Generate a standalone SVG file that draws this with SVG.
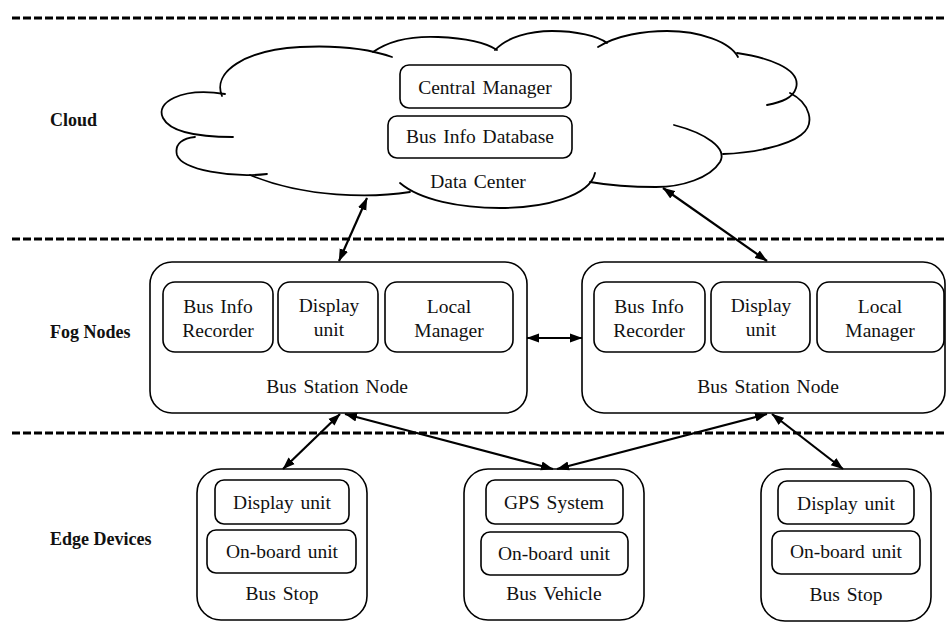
<svg xmlns="http://www.w3.org/2000/svg" width="947" height="635" viewBox="0 0 947 635">
<style>
.dash{stroke:#000;stroke-width:3;stroke-dasharray:8 3;fill:none}
.outer{fill:#fff;stroke:#000;stroke-width:1.6}
.inner{fill:#fff;stroke:#000;stroke-width:1.6}
.cloud path{fill:none;stroke:#000;stroke-width:1.8;stroke-linecap:round}
text{font-family:"Liberation Serif","Times New Roman",serif;font-size:19.5px;word-spacing:2px;fill:#111;text-anchor:middle}
.lbl{font-weight:bold;font-size:18px;word-spacing:0;text-anchor:start}
.conn line{stroke:#000;stroke-width:2.2;marker-start:url(#ah);marker-end:url(#ah)}
</style>
<defs>
<marker id="ah" markerUnits="userSpaceOnUse" markerWidth="13" markerHeight="10" refX="12" refY="4.5" orient="auto-start-reverse" viewBox="0 0 13 9">
<path d="M0,0 L12.5,4.5 L0,9 z" fill="#000"/>
</marker>
</defs>
<rect width="947" height="635" fill="#fff"/>

<g id="layers">
<line class="dash" x1="12" y1="18" x2="947" y2="18"/>
<line class="dash" x1="12" y1="239" x2="947" y2="239"/>
<line class="dash" x1="12" y1="433" x2="947" y2="433"/>
<text class="lbl" x="50" y="126">Cloud</text>
<text class="lbl" x="50" y="338">Fog Nodes</text>
<text class="lbl" x="50" y="545">Edge Devices</text>
</g>

<g id="cloud" class="cloud">
<path d="M225,94 C180,87 155,103 163,118 C170,132 195,137 233,137"/>
<path d="M222,96 C212,72 245,50 300,47 C340,45 372,50 392,57"/>
<path d="M373,52 C390,40 415,36 438,37 C462,38 485,42 497,50"/>
<path d="M495,50 C507,37 530,31 552,31 C576,31 598,36 607,43"/>
<path d="M598,47 C617,35 645,31 667,31 C700,31 730,42 738,57"/>
<path d="M737,53 C765,57 802,68 796,88 C793,98 782,102 767,105"/>
<path d="M790,93 C810,103 816,124 801,135 C787,146 752,153 723,154"/>
<path d="M674,125 C705,133 728,148 720,162 C710,178 682,187 656,187 C630,187 607,185 590,182"/>
<path d="M595,173 C590,196 545,208 500,208 C460,208 420,200 400,183"/>
<path d="M410,192 C372,198 305,198 250,175"/>
<path d="M267,174 C232,178 182,170 177,155 C174,143 184,138 195,137"/>
</g>

<g id="central-manager">
<rect class="inner" x="400" y="65" width="171" height="43" rx="9"/>
<text x="485" y="94">Central Manager</text>
</g>
<g id="bus-info-database">
<rect class="inner" x="388" y="116" width="184" height="42" rx="9"/>
<text x="480" y="143">Bus Info Database</text>
</g>
<g id="data-center">
<text x="478" y="188">Data Center</text>
</g>

<g id="fog-left">
<rect class="outer" x="150" y="262" width="377" height="151" rx="22"/>
<rect class="inner" x="163" y="282" width="110" height="70" rx="12"/>
<text x="218" y="313">Bus Info</text>
<text x="218" y="337">Recorder</text>
<rect class="inner" x="278" y="282" width="100" height="70" rx="12"/>
<text x="329" y="312">Display</text>
<text x="329" y="336">unit</text>
<rect class="inner" x="385" y="282" width="128" height="70" rx="12"/>
<text x="449" y="313">Local</text>
<text x="449" y="337">Manager</text>
<text x="337" y="393">Bus Station Node</text>
</g>

<g id="fog-right">
<rect class="outer" x="582" y="262" width="363" height="151" rx="22"/>
<rect class="inner" x="594" y="282" width="111" height="70" rx="12"/>
<text x="649" y="313">Bus Info</text>
<text x="649" y="337">Recorder</text>
<rect class="inner" x="711" y="282" width="99" height="70" rx="12"/>
<text x="761" y="312">Display</text>
<text x="761" y="336">unit</text>
<rect class="inner" x="817" y="282" width="127" height="70" rx="12"/>
<text x="880" y="313">Local</text>
<text x="880" y="337">Manager</text>
<text x="768" y="393">Bus Station Node</text>
</g>

<g id="bus-stop-left">
<rect class="outer" x="197" y="469" width="170" height="151" rx="24"/>
<rect class="inner" x="215" y="480" width="134" height="44" rx="9"/>
<text x="282" y="509">Display unit</text>
<rect class="inner" x="207" y="530" width="149" height="43" rx="9"/>
<text x="282" y="558">On-board unit</text>
<text x="282" y="600">Bus Stop</text>
</g>

<g id="bus-vehicle">
<rect class="outer" x="464" y="469" width="180" height="151" rx="24"/>
<rect class="inner" x="486" y="480" width="137" height="44" rx="9"/>
<text x="554" y="509">GPS System</text>
<rect class="inner" x="481" y="532" width="147" height="43" rx="9"/>
<text x="554" y="560">On-board unit</text>
<text x="554" y="600">Bus Vehicle</text>
</g>

<g id="bus-stop-right">
<rect class="outer" x="761" y="469" width="170" height="152" rx="24"/>
<rect class="inner" x="778" y="481" width="136" height="43" rx="9"/>
<text x="846" y="510">Display unit</text>
<rect class="inner" x="772" y="531" width="148" height="43" rx="9"/>
<text x="846" y="558">On-board unit</text>
<text x="846" y="601">Bus Stop</text>
</g>

<g id="connectors" class="conn">
<line x1="339" y1="261" x2="367" y2="198"/>
<line x1="767" y1="261" x2="663" y2="188"/>
<line x1="527" y1="338" x2="582" y2="338"/>
<line x1="340" y1="414" x2="283" y2="469"/>
<line x1="345" y1="414" x2="553" y2="469"/>
<line x1="767" y1="414" x2="557" y2="469"/>
<line x1="772" y1="414" x2="843" y2="469"/>
</g>
</svg>
